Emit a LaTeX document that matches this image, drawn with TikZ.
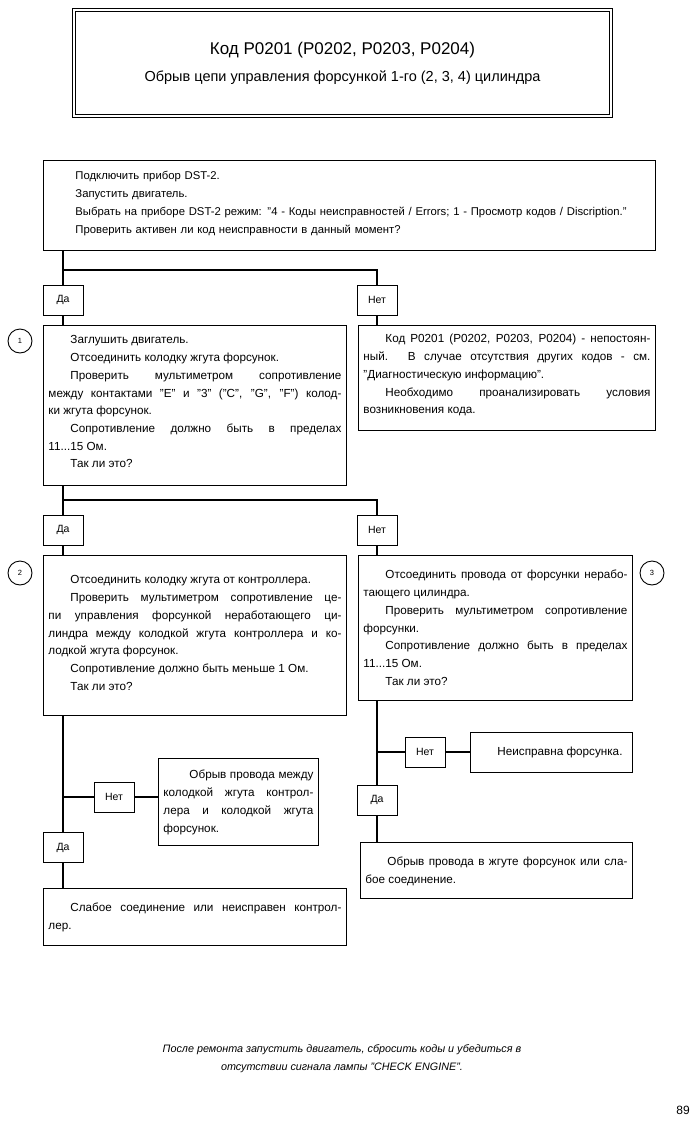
\documentclass[tikz,border=0pt]{standalone}
\usepackage{fontspec}
\setmainfont{Liberation Sans}
\usetikzlibrary{positioning}

\tikzset{
  box/.style={draw, line width=0.9pt, anchor=north west, inner xsep=5pt, inner ysep=0pt,
    align=justify, font={\fontsize{11.7}{17.7}\selectfont}},
  tag/.style={draw, line width=0.9pt, minimum width=40pt, minimum height=30pt, inner sep=0pt,
    font={\fontsize{10.5}{12}\selectfont}},
  wire/.style={line width=2.6pt},
  num/.style={draw, circle, line width=0.9pt, minimum size=24pt, inner sep=0pt,
    font={\fontsize{7.5}{8}\selectfont}}
}
\newcommand{\ind}{\hspace*{22pt}}

\begin{document}
\begin{tikzpicture}[x=1pt, y=-1pt]
  \useasboundingbox (0,0) rectangle (697,1124);
  % title
  \node[draw, double, double distance=2pt, line width=0.8pt, minimum width=537pt, minimum height=106pt,
    align=center] (title) at (342.5,63)
    {{\fontsize{17}{20}\selectfont Код P0201 (P0202, P0203, P0204)}\\[12pt]
     {\fontsize{14.5}{16}\selectfont Обрыв цепи управления форсункой 1-го (2, 3, 4) цилиндра}};
  % steps
  \node[box, align=left, text width=602pt, text height=19pt, text depth=71pt,
    font={\fontsize{11.3}{18}\selectfont}] (start) at (43,160)
    {\hspace*{27pt}Подключить прибор DST-2.\\
     \hspace*{27pt}Запустить двигатель.\\
     \hspace*{27pt}Выбрать на приборе DST-2 режим: "4 - Коды неисправностей / Errors; 1 - Просмотр кодов / Discription."\\
     \hspace*{27pt}Проверить активен ли код неисправности в данный момент?};
  \node[box, text width=293pt, text height=18.5pt, text depth=141.5pt] (step1) at (43,325)
    {\ind Заглушить двигатель.\par
     \ind Отсоединить колодку жгута форсунок.\par
     \ind Проверить мультиметром сопротивление\linebreak
     между контактами "E" и "3" ("C", "G", "F") колод-\linebreak
     ки жгута форсунок.\par
     \ind Сопротивление должно быть в пределах\linebreak
     11...15 Ом.\par
     \ind Так ли это?};
  \node[box, text width=287pt, text height=17.5pt, text depth=87.5pt] (note1) at (358,325)
    {\ind Код P0201 (P0202, P0203, P0204) - непостоян-\linebreak
     ный. В случае отсутствия других кодов - см.\linebreak
     "Диагностическую информацию".\par
     \ind Необходимо проанализировать условия\linebreak
     возникновения кода.};
  \node[box, text width=293pt, text height=28.5pt, text depth=131.5pt] (step2) at (43,555)
    {\ind Отсоединить колодку жгута от контроллера.\par
     \ind Проверить мультиметром сопротивление це-\linebreak
     пи управления форсункой неработающего ци-\linebreak
     линдра между колодкой жгута контроллера и ко-\linebreak
     лодкой жгута форсунок.\par
     \ind Сопротивление должно быть меньше 1 Ом.\par
     \ind Так ли это?};
  \node[box, text width=264pt, text height=23.5pt, text depth=121.5pt] (step3) at (358,555)
    {\ind Отсоединить провода от форсунки нерабо-\linebreak
     тающего цилиндра.\par
     \ind Проверить мультиметром сопротивление\linebreak
     форсунки.\par
     \ind Сопротивление должно быть в пределах\linebreak
     11...15 Ом.\par
     \ind Так ли это?};
  % faults
  \node[box, text width=150pt, text height=20.5pt, text depth=66.5pt] (fault1) at (158,758)
    {\hspace*{26pt}Обрыв провода между\linebreak
     колодкой жгута контрол-\linebreak
     лера и колодкой жгута\linebreak
     форсунок.};
  \node[box, text width=152pt, text height=23.5pt, text depth=16.5pt] (fault2) at (470,732)
    {\ind Неисправна форсунка.};
  \node[box, text width=293pt, text height=23.5pt, text depth=33.5pt] (fault3) at (43,888)
    {\ind Слабое соединение или неисправен контрол-\linebreak
     лер.};
  \node[box, text width=262pt, text height=23.5pt, text depth=32.5pt] (fault4) at (360,842)
    {\ind Обрыв провода в жгуте форсунок или сла-\linebreak
     бое соединение.};
  % yes / no tags
  \foreach \n/\x/\y/\t in {da1/63/300/Да, net1/377/300/Нет, da2/63/530/Да, net2/377/530/Нет,
      da3/63/847.5/Да, net3/114/797/Нет, da4/377/800/Да, net4/425/752/Нет} {
    \node[tag] (\n) at (\x,\y) {\t};
  }
  % step numbers
  \node[num] (c1) at (20,341) {1};
  \node[num] (c2) at (20,573) {2};
  \node[num] (c3) at (652,573) {3};
  % branches
  \coordinate (j1) at (63,270);
  \coordinate (j2) at (63,500);
  \coordinate (j3) at (63,797);
  \coordinate (j4) at (377,752);
  \draw[wire] (start.south -| da1.north) -- (da1.north);
  \draw[wire] (j1) -| (net1.north);
  \draw[wire] (da1.south) -- (da1.south |- step1.north);
  \draw[wire] (net1.south) -- (net1.south |- note1.north);
  \draw[wire] (step1.south -| da2.north) -- (da2.north);
  \draw[wire] (j2) -| (net2.north);
  \draw[wire] (da2.south) -- (da2.south |- step2.north);
  \draw[wire] (net2.south) -- (net2.south |- step3.north);
  \draw[wire] (step2.south -| da3.north) -- (da3.north);
  \draw[wire] (j3) -- (net3.west);
  \draw[wire] (net3.east) -- (net3.east -| fault1.west);
  \draw[wire] (da3.south) -- (da3.south |- fault3.north);
  \draw[wire] (step3.south -| da4.north) -- (da4.north);
  \draw[wire] (j4) -- (net4.west);
  \draw[wire] (net4.east) -- (net4.east -| fault2.west);
  \draw[wire] (da4.south) -- (da4.south |- fault4.north);
  % footer
  \node[align=center, font={\itshape\fontsize{10.8}{18}\selectfont}] (after) at (342,1059)
    {После ремонта запустить двигатель, сбросить коды и убедиться в\\
     отсутствии сигнала лампы "CHECK ENGINE".};
  \node[font={\fontsize{12}{14}\selectfont}] (page) at (683,1110) {89};
\end{tikzpicture}
\end{document}
